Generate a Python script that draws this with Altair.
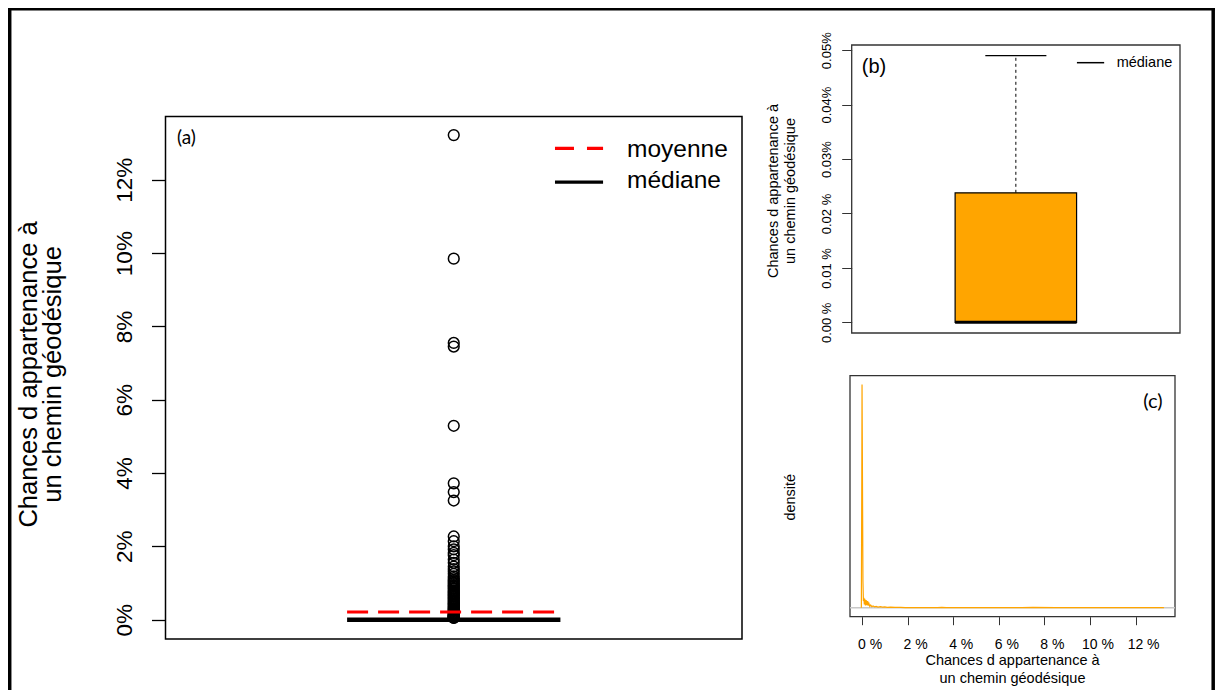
import altair as alt
import pandas as pd

# ------------------------------------------------------------------ data
outlier_values = [13.22, 9.85, 7.55, 7.45, 5.29, 3.72, 3.48, 3.25, 2.27, 2.14,
                  2.00, 1.92, 1.82, 1.76, 1.64, 1.55, 1.45, 1.38, 1.32, 1.25,
                  1.18, 1.13, 1.08, 1.05, 1.01, 0.97, 0.93, 0.91, 0.87, 0.84,
                  0.80, 0.77, 0.74, 0.71, 0.68, 0.65, 0.62, 0.59, 0.56, 0.53,
                  0.50, 0.47, 0.44, 0.42, 0.39, 0.36, 0.34, 0.31, 0.29, 0.27,
                  0.25, 0.23, 0.21, 0.19, 0.17, 0.15, 0.13, 0.12, 0.11, 0.10,
                  0.09, 0.08, 0.07, 0.065, 0.06, 0.055, 0.05]
median_pct = 0.0
q1_pct = 0.0
q3_pct = 0.0238
whisker_high_pct = 0.049
mean_pct = 0.21

density_x = [-0.03, -0.01, 0.0, 0.02, 0.04, 0.06, 0.08, 0.10, 0.12, 0.15,
             0.18, 0.21, 0.24, 0.27, 0.30, 0.34, 0.38, 0.43, 0.48, 0.55,
             0.62, 0.70, 0.80, 0.90, 1.00, 1.10, 1.25, 1.45, 1.70, 1.90,
             2.2, 2.6, 3.0, 3.3, 3.5, 3.7, 4.2, 5.0, 5.3, 6.0,
             7.0, 7.5, 8.5, 9.8, 11.0, 12.2, 13.2, 13.25]
density_y = [0.0, 0.6, 1.0, 0.55, 0.12, 0.03, 0.045, 0.015, 0.04, 0.01,
             0.035, 0.012, 0.03, 0.01, 0.02, 0.006, 0.012, 0.005, 0.008, 0.004,
             0.006, 0.003, 0.005, 0.003, 0.004, 0.002, 0.003, 0.002, 0.002, 0.001,
             0.001, 0.0008, 0.0008, 0.001, 0.002, 0.001, 0.0005, 0.0005, 0.001, 0.0004,
             0.0004, 0.0015, 0.0004, 0.0008, 0.0003, 0.0003, 0.0006, 0.0]

a_ticks = [0, 2, 4, 6, 8, 10, 12]
a_tick_labels = ["0%", "2%", "4%", "6%", "8%", "10%", "12%"]
b_ticks = [0.0, 0.01, 0.02, 0.03, 0.04, 0.05]
b_tick_labels = ["0.00 %", "0.01 %", "0.02 %", "0.03%", "0.04%", "0.05%"]
c_ticks = [0, 2, 4, 6, 8, 10, 12]
c_tick_labels = ["0 %", "2 %", "4 %", "6 %", "8 %", "10 %", "12 %"]

legend_a = ["moyenne", "médiane"]
legend_b = ["médiane"]
axis_title = ["Chances d appartenance à", "un chemin géodésique"]
density_title = "densité"
panel_tags = ["(a)", "(b)", "(c)"]

# ------------------------------------------------------------------ layout
W, H = 1207, 690
FONT = "Liberation Sans"
TAGFONT = "Lato"

A_XDOM, A_YDOM = [0, 1], [-0.528, 13.728]
B_XDOM, B_YDOM = [0, 1], [-0.00196, 0.05096]
C_XDOM, C_YDOM = [-0.528, 13.728], [-0.04, 1.04]

SA_X = alt.Scale(domain=A_XDOM, range=[157.5, 734], nice=False, zero=False)
SA_Y = alt.Scale(domain=A_YDOM, range=[631, 108.5], nice=False, zero=False)
SB_X = alt.Scale(domain=B_XDOM, range=[843.7, 1172], nice=False, zero=False)
SB_Y = alt.Scale(domain=B_YDOM, range=[325, 37], nice=False, zero=False)
SC_X = alt.Scale(domain=C_XDOM, range=[842, 1167], nice=False, zero=False)
SC_Y = alt.Scale(domain=C_YDOM, range=[608.7, 367.7], nice=False, zero=False)

BOX_L, BOX_R, BOX_C, CAP_HALF = 0.315, 0.685, 0.5, 0.093


def lab_expr(vals, labels, scale=1):
    arr = "[" + ",".join("'" + s + "'" for s in labels) + "]"
    return f"{arr}[round(datum.value*{scale}/{(vals[1]-vals[0])*scale})]"


def X(field, sc, axis=None):
    return alt.X(field, type="quantitative", scale=sc, axis=axis)


def Y(field, sc, axis=None):
    return alt.Y(field, type="quantitative", scale=sc, axis=axis)


one = pd.DataFrame({"k": [0]})
layers = []

# outer frame (left, top, right)
layers.append(alt.Chart(one).mark_rule(color="black", strokeWidth=3.5).encode(
    x=alt.value(1.7), y=alt.value(0.8), y2=alt.value(H)))
layers.append(alt.Chart(one).mark_rule(color="black", strokeWidth=3.5).encode(
    x=alt.value(0), x2=alt.value(W), y=alt.value(0.8)))
layers.append(alt.Chart(one).mark_rule(color="black", strokeWidth=3.5).encode(
    x=alt.value(W - 1.8), y=alt.value(0.8), y2=alt.value(H)))

# ------------------------------------------------------------- panel (a)
axis_a = alt.Axis(orient="left", offset=-157.5, values=a_ticks,
                  labelExpr=lab_expr(a_ticks, a_tick_labels),
                  labelAngle=270, labelAlign="center", labelBaseline="alphabetic",
                  labelFontSize=22.5, labelPadding=20, tickSize=14, tickWidth=1.3,
                  labelFlush=False, labelOverlap=False,
                  title=axis_title, titleFontSize=25.5, titleAngle=270,
                  titleAlign="center", titleBaseline="middle", titleLineHeight=24,
                  titleX=-137.5, titleY=366)
frame_a = pd.DataFrame({"x0": [A_XDOM[0]], "x1": [A_XDOM[1]],
                        "y0": [A_YDOM[0]], "y1": [A_YDOM[1]]})
layers.append(alt.Chart(frame_a).mark_rect(filled=False, stroke="black", strokeWidth=1.5).encode(
    x=X("x0", SA_X), x2="x1", y=Y("y0", SA_Y, axis_a), y2="y1"))

out_df = pd.DataFrame({"x": [BOX_C] * len(outlier_values), "v": outlier_values})
layers.append(alt.Chart(out_df).mark_point(shape="circle", filled=False, color="black",
                                           strokeWidth=1.5, size=115, opacity=1).encode(
    x=X("x", SA_X), y=Y("v", SA_Y)))

med_a = pd.DataFrame({"x0": [BOX_L], "x1": [BOX_R], "v": [median_pct]})
layers.append(alt.Chart(med_a).mark_rule(color="black", strokeWidth=4.5).encode(
    x=X("x0", SA_X), x2="x1", y=Y("v", SA_Y)))
mean_a = pd.DataFrame({"x0": [BOX_L], "x1": [BOX_R], "v": [mean_pct]})
layers.append(alt.Chart(mean_a).mark_rule(color="#FF0000", strokeWidth=3, strokeDash=[21, 10]).encode(
    x=X("x0", SA_X), x2="x1", y=Y("v", SA_Y)))

# legend (a)
leg_red = pd.DataFrame({"x0": [0.6756], "x1": [0.759], "v": [12.86]})
layers.append(alt.Chart(leg_red).mark_rule(color="#FF0000", strokeWidth=3.3, strokeDash=[19, 13]).encode(
    x=X("x0", SA_X), x2="x1", y=Y("v", SA_Y)))
leg_blk = pd.DataFrame({"x0": [0.6756], "x1": [0.759], "v": [11.94]})
layers.append(alt.Chart(leg_blk).mark_rule(color="black", strokeWidth=3.3).encode(
    x=X("x0", SA_X), x2="x1", y=Y("v", SA_Y)))
leg_txt = pd.DataFrame({"x": [0.8005, 0.8005], "v": [12.63, 11.785], "t": legend_a})
layers.append(alt.Chart(leg_txt).mark_text(align="left", baseline="alphabetic", font=FONT,
                                           fontSize=24.5, color="black").encode(
    x=X("x", SA_X), y=Y("v", SA_Y), text="t:N"))
tag_a = pd.DataFrame({"x": [0.02], "v": [13.14], "t": [panel_tags[0]]})
layers.append(alt.Chart(tag_a).mark_text(align="left", baseline="middle", font=TAGFONT,
                                         fontSize=19, color="black").encode(
    x=X("x", SA_X), y=Y("v", SA_Y), text="t:N"))

# ------------------------------------------------------------- panel (b)
axis_b = alt.Axis(orient="left", offset=-843.7, values=b_ticks,
                  labelExpr=lab_expr(b_ticks, b_tick_labels, 100),
                  labelAngle=270, labelAlign="center", labelBaseline="alphabetic",
                  labelFontSize=13, labelPadding=11, tickSize=10, tickColor="#333333",
                  labelFlush=False, labelOverlap=False,
                  title=axis_title, titleFontSize=14.5, titleAngle=270,
                  titleAlign="center", titleBaseline="middle", titleLineHeight=17,
                  titleX=-78.5, titleY=182.5)
frame_b = pd.DataFrame({"x0": [B_XDOM[0]], "x1": [B_XDOM[1]],
                        "y0": [B_YDOM[0]], "y1": [B_YDOM[1]]})
layers.append(alt.Chart(frame_b).mark_rect(filled=False, stroke="#333333", strokeWidth=1.3).encode(
    x=X("x0", SB_X), x2="x1", y=Y("y0", SB_Y, axis_b), y2="y1"))

whisk_b = pd.DataFrame({"x": [BOX_C], "v0": [q3_pct], "v1": [whisker_high_pct]})
layers.append(alt.Chart(whisk_b).mark_rule(color="black", strokeWidth=1, strokeDash=[3, 3]).encode(
    x=X("x", SB_X), y=Y("v0", SB_Y), y2="v1"))
cap_b = pd.DataFrame({"x0": [BOX_C - CAP_HALF], "x1": [BOX_C + CAP_HALF], "v": [whisker_high_pct]})
layers.append(alt.Chart(cap_b).mark_rule(color="black", strokeWidth=1.2).encode(
    x=X("x0", SB_X), x2="x1", y=Y("v", SB_Y)))
box_b = pd.DataFrame({"x0": [BOX_L], "x1": [BOX_R], "v0": [q1_pct], "v1": [q3_pct]})
layers.append(alt.Chart(box_b).mark_rect(fill="#FFA500", stroke="black", strokeWidth=1.2).encode(
    x=X("x0", SB_X), x2="x1", y=Y("v0", SB_Y), y2="v1"))
med_b = pd.DataFrame({"x0": [BOX_L], "x1": [BOX_R], "v": [median_pct]})
layers.append(alt.Chart(med_b).mark_rule(color="black", strokeWidth=3).encode(
    x=X("x0", SB_X), x2="x1", y=Y("v", SB_Y)))

leg_b_line = pd.DataFrame({"x0": [0.686], "x1": [0.769], "v": [0.04771]})
layers.append(alt.Chart(leg_b_line).mark_rule(color="black", strokeWidth=1.5).encode(
    x=X("x0", SB_X), x2="x1", y=Y("v", SB_Y)))
leg_b_txt = pd.DataFrame({"x": [0.807], "v": [0.04771], "t": legend_b})
layers.append(alt.Chart(leg_b_txt).mark_text(align="left", baseline="middle", font=FONT,
                                             fontSize=14.5, color="black").encode(
    x=X("x", SB_X), y=Y("v", SB_Y), text="t:N"))
tag_b = pd.DataFrame({"x": [0.068], "v": [0.04692], "t": [panel_tags[1]]})
layers.append(alt.Chart(tag_b).mark_text(align="center", baseline="middle", font=FONT,
                                         fontSize=20, color="black").encode(
    x=X("x", SB_X), y=Y("v", SB_Y), text="t:N"))

# ------------------------------------------------------------- panel (c)
axis_cx = alt.Axis(orient="bottom", offset=-81.3, values=c_ticks,
                   labelExpr=lab_expr(c_ticks, c_tick_labels),
                   labelFontSize=14, labelBaseline="alphabetic", labelPadding=23.6,
                   labelOffset=7.5, tickSize=8, tickColor="#333333",
                   labelFlush=False, labelOverlap=False,
                   title=axis_title, titleFontSize=14.5, titleAngle=0,
                   titleAlign="center", titleBaseline="middle", titleLineHeight=17.6,
                   titleX=1004, titleY=44)
axis_cy = alt.Axis(orient="left", offset=-842, ticks=False, labels=False,
                   title=density_title, titleFontSize=14.5, titleAngle=270,
                   titleAlign="center", titleBaseline="middle",
                   titleX=-60, titleY=488.7)
frame_c = pd.DataFrame({"x0": [C_XDOM[0]], "x1": [C_XDOM[1]],
                        "y0": [C_YDOM[0]], "y1": [C_YDOM[1]]})
layers.append(alt.Chart(frame_c).mark_rect(filled=False, stroke="#333333", strokeWidth=1.3).encode(
    x=X("x0", SC_X, axis_cx), x2="x1", y=Y("y0", SC_Y, axis_cy), y2="y1"))

zero_c = pd.DataFrame({"x0": [C_XDOM[0]], "x1": [C_XDOM[1]], "v": [0.0]})
layers.append(alt.Chart(zero_c).mark_rule(color="#C8C8C8", strokeWidth=1.5).encode(
    x=X("x0", SC_X), x2="x1", y=Y("v", SC_Y)))
dens = pd.DataFrame({"x": density_x, "d": density_y})
layers.append(alt.Chart(dens).mark_line(color="#FFA500", strokeWidth=1.2).encode(
    x=X("x", SC_X), y=Y("d", SC_Y)))
tag_c = pd.DataFrame({"x": [12.76], "v": [0.922], "t": [panel_tags[2]]})
layers.append(alt.Chart(tag_c).mark_text(align="center", baseline="middle", font=TAGFONT,
                                         fontSize=20, color="black").encode(
    x=X("x", SC_X), y=Y("v", SC_Y), text="t:N"))

chart = alt.layer(*layers).resolve_scale(
    x="independent", y="independent"
).resolve_axis(
    x="independent", y="independent"
).properties(
    width=W, height=H, padding=0,
    autosize=alt.AutoSizeParams(type="none"),
    background="white",
).configure_view(stroke=None).configure_axis(
    grid=False, domain=False, tickColor="black", labelColor="black",
    titleColor="black", labelFont=FONT, titleFont=FONT, titleFontWeight="normal",
)

chart.save("out.html", embed_options={"renderer": "svg", "actions": False})
